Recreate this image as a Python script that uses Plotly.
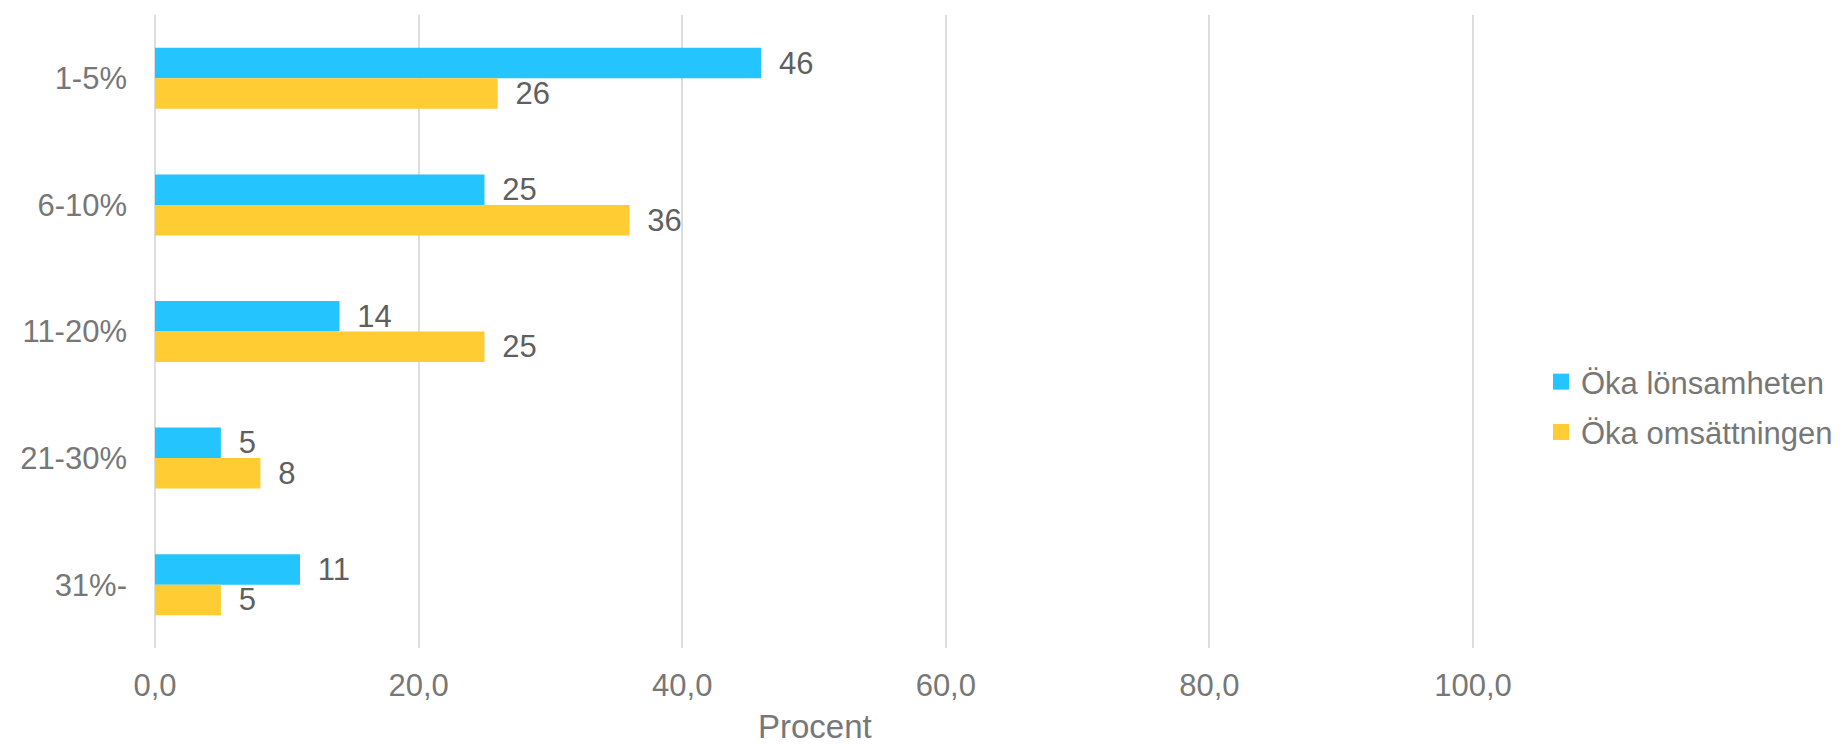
import plotly.graph_objects as go

categories = ["1-5%", "6-10%", "11-20%", "21-30%", "31%-"]
lonsamhet = [46, 25, 14, 5, 11]
omsattning = [26, 36, 25, 8, 5]
series_names = ["Öka lönsamheten", "Öka omsättningen"]
colors = ["#23C4FF", "#FFCC33"]
x_ticks = [0, 20, 40, 60, 80, 100]
x_ticklabels = ["0,0", "20,0", "40,0", "60,0", "80,0", "100,0"]
x_title = "Procent"

FONT = "Liberation Sans, Arial, sans-serif"
fig = go.Figure()
for name, vals, col in zip(series_names, [lonsamhet, omsattning], colors):
    fig.add_trace(go.Bar(
        y=categories, x=vals, orientation="h", name=name,
        marker=dict(color=col, line=dict(width=0)),
        text=["\u00a0\u2009" + str(v) for v in vals], textposition="outside",
        constraintext="none",
        textfont=dict(family=FONT, size=31, color="#5f5f5f"),
        cliponaxis=False, showlegend=False, legendgroup=name,
    ))
    fig.add_trace(go.Scatter(
        x=[None], y=[None], mode="markers", name=name, legendgroup=name,
        marker=dict(symbol="square", size=16, color=col),
    ))

fig.update_layout(
    width=1844, height=746,
    margin=dict(l=155, r=369, t=15, b=98, autoexpand=False),
    paper_bgcolor="white", plot_bgcolor="white",
    barmode="group", bargap=0.518, bargroupgap=0,
    font=dict(family=FONT, size=31, color="#777777"),
    legend=dict(xref="container", yref="container",
                x=1541 / 1844, xanchor="left", y=1 - 407 / 746, yanchor="middle",
                traceorder="grouped", tracegroupgap=7, itemsizing="trace",
                font=dict(family=FONT, size=31, color="#777777"),
                bgcolor="rgba(0,0,0,0)"),
    annotations=[dict(text=x_title, xref="paper", yref="paper", x=0.5,
                      y=-78 / 633, yanchor="middle", xanchor="center",
                      showarrow=False,
                      font=dict(family=FONT, size=33, color="#777777"))],
)
fig.update_xaxes(range=[0, 100.15], tickvals=x_ticks, ticktext=x_ticklabels,
                 automargin=False,
                 showgrid=True, gridcolor="#dddddd", gridwidth=2,
                 zeroline=True, zerolinecolor="#dddddd", zerolinewidth=2,
                 showline=False, ticks="", ticklabelstandoff=16,
                 tickfont=dict(family=FONT, size=31, color="#777777"))
fig.update_yaxes(autorange="reversed", showgrid=False, showline=False, ticks="",
                 automargin=False, ticklabelstandoff=27,
                 tickfont=dict(family=FONT, size=31, color="#777777"))

fig.write_html("out.html")
